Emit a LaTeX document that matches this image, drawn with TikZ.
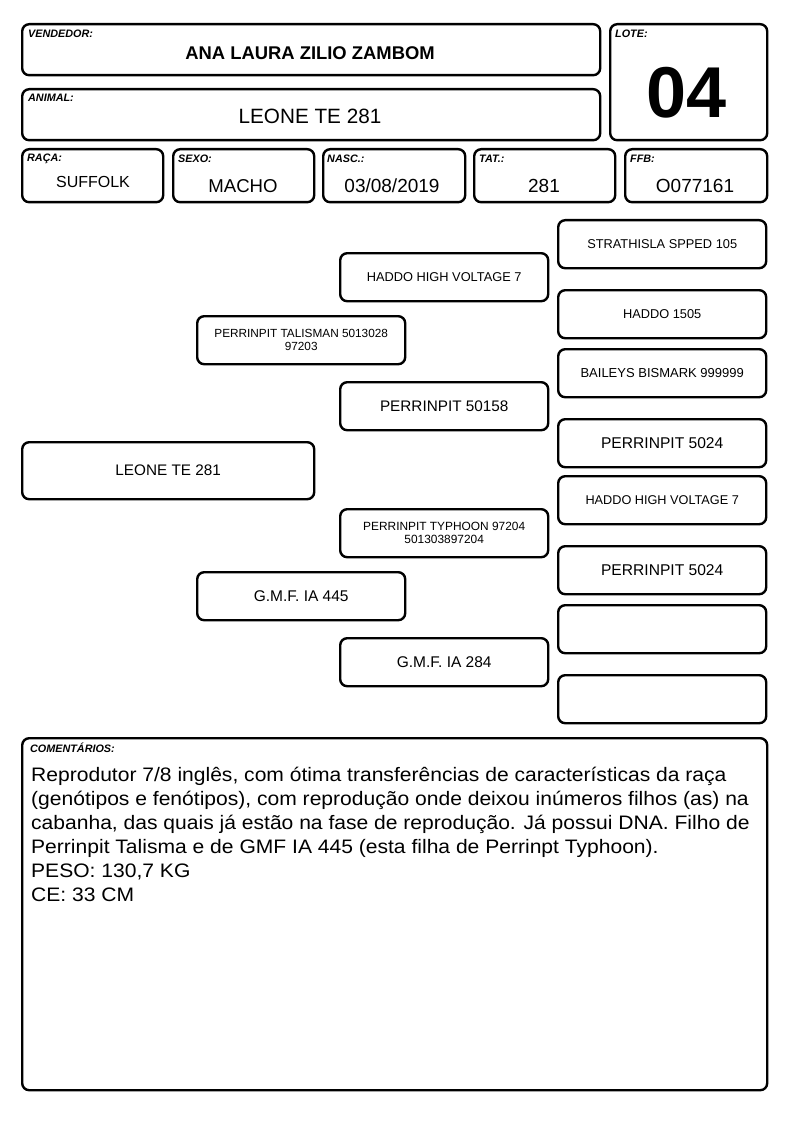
\documentclass[tikz,border=0pt]{standalone}
\usepackage{fontspec}
\setmainfont{Liberation Sans}
\newfontfamily\widefont[FakeStretch=1.08]{Liberation Sans}
\newcommand{\fs}[1]{\fontsize{#1}{#1}\selectfont}
\begin{document}
\begin{tikzpicture}[x=1pt,y=-1pt,
  box/.style={draw=black,line width=2.4pt,rounded corners=7pt,fill=white,inner sep=0pt,anchor=north west,align=center},
  lbl/.style={anchor=north west,inner sep=0pt,font=\fs{10.8}\bfseries\itshape},
  val/.style={inner sep=0pt,anchor=center},
  ped/.style={box,minimum width=208pt,minimum height=48pt}]
\useasboundingbox[fill=white] (0,0) rectangle (794,1123);
% header
\node[box,minimum width=578pt,minimum height=51pt] (vend) at (21,23) {};
\node[lbl] (vendl) at (28,30) {VENDEDOR:};
\node[val,font=\fs{18.4}\bfseries] (vendv) at (310,53) {ANA LAURA ZILIO ZAMBOM};
\node[box,minimum width=157pt,minimum height=116pt] (lote) at (609,23) {};
\node[lbl] (lotel) at (615,30) {LOTE:};
\node[val,font=\fs{72}\bfseries] (lotev) at (687,93) {04};
\node[box,minimum width=578pt,minimum height=51pt] (anim) at (21,88) {};
\node[lbl] (animl) at (28,94) {ANIMAL:};
\node[val,font=\fs{20.7}] (animv) at (310,116) {LEONE TE 281};
% data row
\node[box,minimum width=141pt,minimum height=53pt] (raca) at (21,148) {};
\node[lbl] (racal) at (27,154) {RAÇA:};
\node[val,font=\fs{16}] (racav) at (93,182) {SUFFOLK};
\node[box,minimum width=141pt,minimum height=53pt] (sexo) at (172,148) {};
\node[lbl] (sexol) at (178,155) {SEXO:};
\node[val,font=\fs{18.6}] (sexov) at (243,186) {MACHO};
\node[box,minimum width=142pt,minimum height=53pt] (nasc) at (322,148) {};
\node[lbl] (nascl) at (327,155) {NASC.:};
\node[val,font=\fs{19}] (nascv) at (392,186) {03/08/2019};
\node[box,minimum width=141pt,minimum height=53pt] (tat) at (473,148) {};
\node[lbl] (tatl) at (479,155) {TAT.:};
\node[val,font=\fs{19}] (tatv) at (544,186) {281};
\node[box,minimum width=142pt,minimum height=53pt] (ffb) at (624,148) {};
\node[lbl] (ffbl) at (630,155) {FFB:};
\node[val,font=\fs{19}] (ffbv) at (695,186) {O077161};
% pedigree
\node[box,minimum width=292pt,minimum height=57pt,font=\fs{15.3}] (animal) at (21,441) {LEONE TE 281};
\node[ped,font=\fs{11.8}] (pai) at (196,315) {PERRINPIT TALISMAN 5013028\\[1pt]97203};
\node[ped,font=\fs{15.5}] (mae) at (196,571) {G.M.F. IA 445};
\node[ped,font=\fs{12.8}] (avo1) at (339,252) {HADDO HIGH VOLTAGE 7};
\node[ped,font=\fs{15.3}] (avo2) at (339,381) {PERRINPIT 50158};
\node[ped,font=\fs{11.9}] (avo3) at (339,508) {PERRINPIT TYPHOON 97204\\[1pt]501303897204};
\node[ped,font=\fs{15.5}] (avo4) at (339,637) {G.M.F. IA 284};
\node[ped,font=\fs{12.8}] (bis1) at (557,219) {STRATHISLA SPPED 105};
\node[ped,font=\fs{12.8}] (bis2) at (557,289) {HADDO 1505};
\node[ped,font=\fs{13}] (bis3) at (557,348) {BAILEYS BISMARK 999999};
\node[ped,font=\fs{15.6}] (bis4) at (557,418) {PERRINPIT 5024};
\node[ped,font=\fs{12.7}] (bis5) at (557,475) {HADDO HIGH VOLTAGE 7};
\node[ped,font=\fs{15.6}] (bis6) at (557,545) {PERRINPIT 5024};
\node[ped] (bis7) at (557,604) {};
\node[ped] (bis8) at (557,674) {};
% comments
\node[box,minimum width=745pt,minimum height=352pt] (com) at (21,737) {};
\node[lbl] (coml) at (30,743) {COMENTÁRIOS:};
\node[inner sep=0pt,anchor=north west,align=left,font=\widefont\fontsize{19.5}{24}\selectfont] (comt) at (31,767) {Reprodutor 7/8 inglês, com ótima transferências de características da raça\\(genótipos e fenótipos), com reprodução onde deixou inúmeros filhos (as) na\\cabanha, das quais já estão na fase de reprodução. Já possui DNA. Filho de\\Perrinpit Talisma e de GMF IA 445 (esta filha de Perrinpt Typhoon).\\PESO: 130,7 KG\\CE: 33 CM};
\end{tikzpicture}
\end{document}
